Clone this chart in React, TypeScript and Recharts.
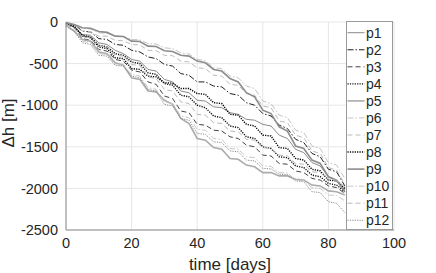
import { CartesianGrid, Legend, Line, LineChart, XAxis, YAxis } from "recharts";

// sampling grid (days)
const days = [
  0, 2.5, 5, 7.5, 10, 12.5, 15, 17.5, 20, 22.5, 25, 27.5, 30, 32.5, 35, 37.5,
  40, 42.5, 45, 47.5, 50, 52.5, 55, 57.5, 60, 62.5, 65, 67.5, 70, 72.5, 75,
  77.5, 80, 82.5, 85,
];

const p1 = [-20, -60, -150, -160, -250, -270, -340, -380, -450, -470, -570, -590, -690, -720, -830, -850, -940, -950, -1020, -1030, -1090, -1110, -1170, -1180, -1230, -1250, -1360, -1400, -1530, -1570, -1690, -1730, -1860, -1900, -2020];
const p2 = [-10, -30, -110, -120, -200, -210, -270, -280, -340, -360, -420, -440, -510, -530, -620, -640, -720, -720, -770, -780, -860, -880, -970, -1000, -1100, -1130, -1240, -1280, -1410, -1450, -1580, -1620, -1770, -1800, -1970];
const p3 = [-30, -70, -200, -220, -330, -350, -450, -470, -580, -600, -720, -750, -890, -920, -1070, -1090, -1230, -1240, -1300, -1310, -1380, -1400, -1480, -1500, -1600, -1610, -1700, -1710, -1790, -1810, -1880, -1900, -1970, -1990, -2060];
const p4 = [-20, -60, -160, -180, -280, -300, -380, -400, -480, -500, -610, -630, -740, -760, -880, -900, -1000, -1030, -1130, -1150, -1250, -1270, -1380, -1400, -1500, -1520, -1620, -1630, -1730, -1750, -1840, -1860, -1940, -1960, -2040];
const p5 = [-40, -110, -210, -230, -360, -380, -490, -520, -670, -690, -830, -840, -940, -990, -1160, -1220, -1400, -1420, -1510, -1530, -1640, -1650, -1720, -1740, -1810, -1810, -1850, -1850, -1890, -1900, -1960, -1970, -2030, -2040, -2080];
const p6 = [0, -30, -80, -85, -130, -135, -170, -175, -210, -215, -260, -265, -310, -320, -370, -385, -450, -465, -550, -560, -650, -670, -770, -800, -950, -980, -1120, -1150, -1300, -1330, -1490, -1520, -1690, -1720, -1880];
const p7 = [-20, -40, -110, -115, -170, -170, -220, -225, -270, -275, -340, -345, -400, -405, -470, -480, -550, -560, -640, -650, -750, -760, -860, -880, -1010, -1030, -1190, -1210, -1360, -1390, -1550, -1580, -1750, -1780, -1950];
const p8 = [-10, -50, -170, -190, -300, -320, -430, -440, -560, -570, -650, -660, -730, -735, -800, -800, -860, -870, -970, -980, -1110, -1120, -1230, -1250, -1360, -1370, -1510, -1520, -1640, -1660, -1770, -1790, -1900, -1910, -2000];
const p9 = [-10, -30, -70, -75, -115, -125, -170, -175, -230, -235, -290, -295, -345, -355, -400, -410, -470, -490, -570, -590, -680, -720, -850, -900, -1060, -1100, -1260, -1310, -1490, -1520, -1660, -1700, -1860, -1900, -2040];
const p10 = [-40, -90, -230, -250, -380, -390, -510, -520, -630, -650, -790, -810, -960, -980, -1130, -1150, -1290, -1300, -1400, -1410, -1520, -1530, -1620, -1630, -1730, -1735, -1810, -1815, -1900, -1905, -1990, -2000, -2080, -2085, -2150];
const p11 = [-30, -70, -180, -190, -290, -300, -400, -410, -510, -525, -660, -680, -810, -830, -960, -980, -1110, -1120, -1210, -1220, -1310, -1320, -1410, -1420, -1510, -1520, -1600, -1610, -1700, -1710, -1800, -1810, -1890, -1900, -1980];
const p12 = [-50, -110, -250, -270, -400, -410, -520, -530, -650, -670, -810, -830, -990, -1010, -1160, -1180, -1340, -1350, -1440, -1450, -1550, -1560, -1660, -1670, -1760, -1765, -1830, -1835, -1910, -1920, -2040, -2050, -2160, -2180, -2290];

const xTicks = [0, 20, 40, 60, 80, 100];
const yTicks = [-2500, -2000, -1500, -1000, -500, 0];

const DASHDOT = "6 2 1.5 2";
const DASHED = "5 3";
const DOTTED = "1.2 1.2";

const SERIES = [
  { name: "p1", values: p1, color: "#8a8a8a", width: 1, dash: undefined },
  { name: "p2", values: p2, color: "#222222", width: 1, dash: DASHDOT },
  { name: "p3", values: p3, color: "#444444", width: 1, dash: DASHED },
  { name: "p4", values: p4, color: "#111111", width: 1.4, dash: DOTTED },
  { name: "p5", values: p5, color: "#ababab", width: 1.6, dash: undefined },
  { name: "p6", values: p6, color: "#c4c4c4", width: 1, dash: DASHDOT },
  { name: "p7", values: p7, color: "#bcbcbc", width: 1, dash: DASHED },
  { name: "p8", values: p8, color: "#000000", width: 1.4, dash: DOTTED },
  { name: "p9", values: p9, color: "#8c8c8c", width: 1.6, dash: undefined },
  { name: "p10", values: p10, color: "#c8c8c8", width: 1, dash: DASHDOT },
  { name: "p11", values: p11, color: "#b8b8b8", width: 1, dash: DASHED },
  { name: "p12", values: p12, color: "#8a8a8a", width: 1, dash: DOTTED },
];

const data = days.map((d, i) => {
  const row: Record<string, number> = { day: d };
  SERIES.forEach((s) => {
    row[s.name] = s.values[i];
  });
  return row;
});

const FONT = "'Liberation Sans', Arial, Helvetica, sans-serif";
const TEXT = "#262626";

const renderLegend = () => (
  <svg width={47} height={209} style={{ display: "block" }}>
    <rect x={0.5} y={0.5} width={46} height={208} fill="#fff" stroke="#9a9a9a" />
    {SERIES.map((s, i) => {
      const y = 11.7 + i * 17.05;
      return (
        <g key={s.name}>
          <line
            x1={1.5}
            x2={18.5}
            y1={y}
            y2={y}
            stroke={s.color}
            strokeWidth={s.width}
            strokeDasharray={s.dash}
          />
          <text
            x={20}
            y={y}
            dy="0.36em"
            fontSize={14}
            fontFamily={FONT}
            fill={TEXT}
          >
            {s.name}
          </text>
        </g>
      );
    })}
  </svg>
);

export default function App() {
  return (
    <div style={{ position: "absolute", left: 0, top: 0, background: "#fff" }}>
      <LineChart
        width={436}
        height={273}
        data={data}
        margin={{ top: 22, right: 42, bottom: 0, left: 0 }}
      >
        <CartesianGrid stroke="#e6e6e6" strokeWidth={1} />
        <XAxis
          dataKey="day"
          type="number"
          domain={[0, 100]}
          ticks={xTicks}
          tickLine={false}
          axisLine={{ stroke: "#8c8c8c" }}
          height={43}
          tick={{ fontSize: 14.5, fill: TEXT, fontFamily: FONT }}
          label={{
            value: "time [days]",
            position: "insideBottom",
            offset: 3,
            fontSize: 17,
            fill: TEXT,
            fontFamily: FONT,
          }}
        />
        <YAxis
          type="number"
          domain={[-2500, 0]}
          ticks={yTicks}
          tickLine={false}
          axisLine={{ stroke: "#8c8c8c" }}
          width={66}
          tick={{ fontSize: 14.5, fill: TEXT, fontFamily: FONT }}
          label={{
            value: "Δh [m]",
            angle: -90,
            position: "center",
            dx: -25,
            dy: -3,
            fontSize: 17,
            fill: TEXT,
            fontFamily: FONT,
          }}
        />
        {SERIES.map((s) => (
          <Line
            key={s.name}
            dataKey={s.name}
            type="linear"
            stroke={s.color}
            strokeWidth={s.width}
            strokeDasharray={s.dash}
            dot={false}
            activeDot={false}
            isAnimationActive={false}
          />
        ))}
        <Legend
          layout="vertical"
          align="center"
          verticalAlign="middle"
          content={renderLegend}
          wrapperStyle={{ position: "absolute", left: 346, top: 21, width: 47, height: 209 }}
        />
      </LineChart>
    </div>
  );
}
